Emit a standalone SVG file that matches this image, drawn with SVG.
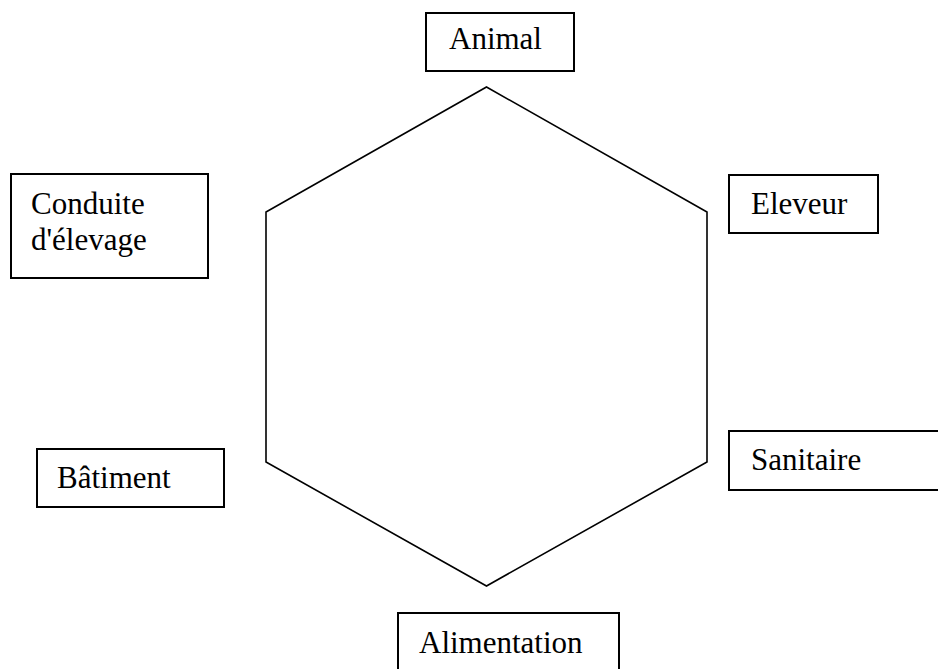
<svg xmlns="http://www.w3.org/2000/svg" width="938" height="669" viewBox="0 0 938 669">
<style>
.box{fill:#fff;stroke:#000;stroke-width:2}
.lbl{font-family:"Liberation Serif","Times New Roman",serif;font-size:31px;fill:#000}
.hex{fill:none;stroke:#000;stroke-width:1.6;stroke-linejoin:miter}
</style>
<rect width="938" height="669" fill="#fff"/>
<g id="connectors">
<polygon class="hex" points="486.5,87 707,212 707,462 486.5,586 266,462 266,212"/>
</g>
<g id="animal">
<rect class="box" x="426" y="13" width="148" height="58"/>
<text class="lbl" x="449" y="49">Animal</text>
</g>
<g id="conduite">
<rect class="box" x="11" y="174" width="197" height="104"/>
<text class="lbl" x="31" y="214">Conduite</text>
<text class="lbl" x="31" y="250">d'élevage</text>
</g>
<g id="eleveur">
<rect class="box" x="729" y="175" width="149" height="58"/>
<text class="lbl" x="751" y="214">Eleveur</text>
</g>
<g id="sanitaire">
<rect class="box" x="729" y="431" width="220" height="59"/>
<text class="lbl" x="751" y="470">Sanitaire</text>
</g>
<g id="batiment">
<rect class="box" x="37" y="449" width="187" height="58"/>
<text class="lbl" x="57" y="488">Bâtiment</text>
</g>
<g id="alimentation">
<rect class="box" x="398" y="613" width="221" height="70"/>
<text class="lbl" x="419" y="653">Alimentation</text>
</g>
</svg>
